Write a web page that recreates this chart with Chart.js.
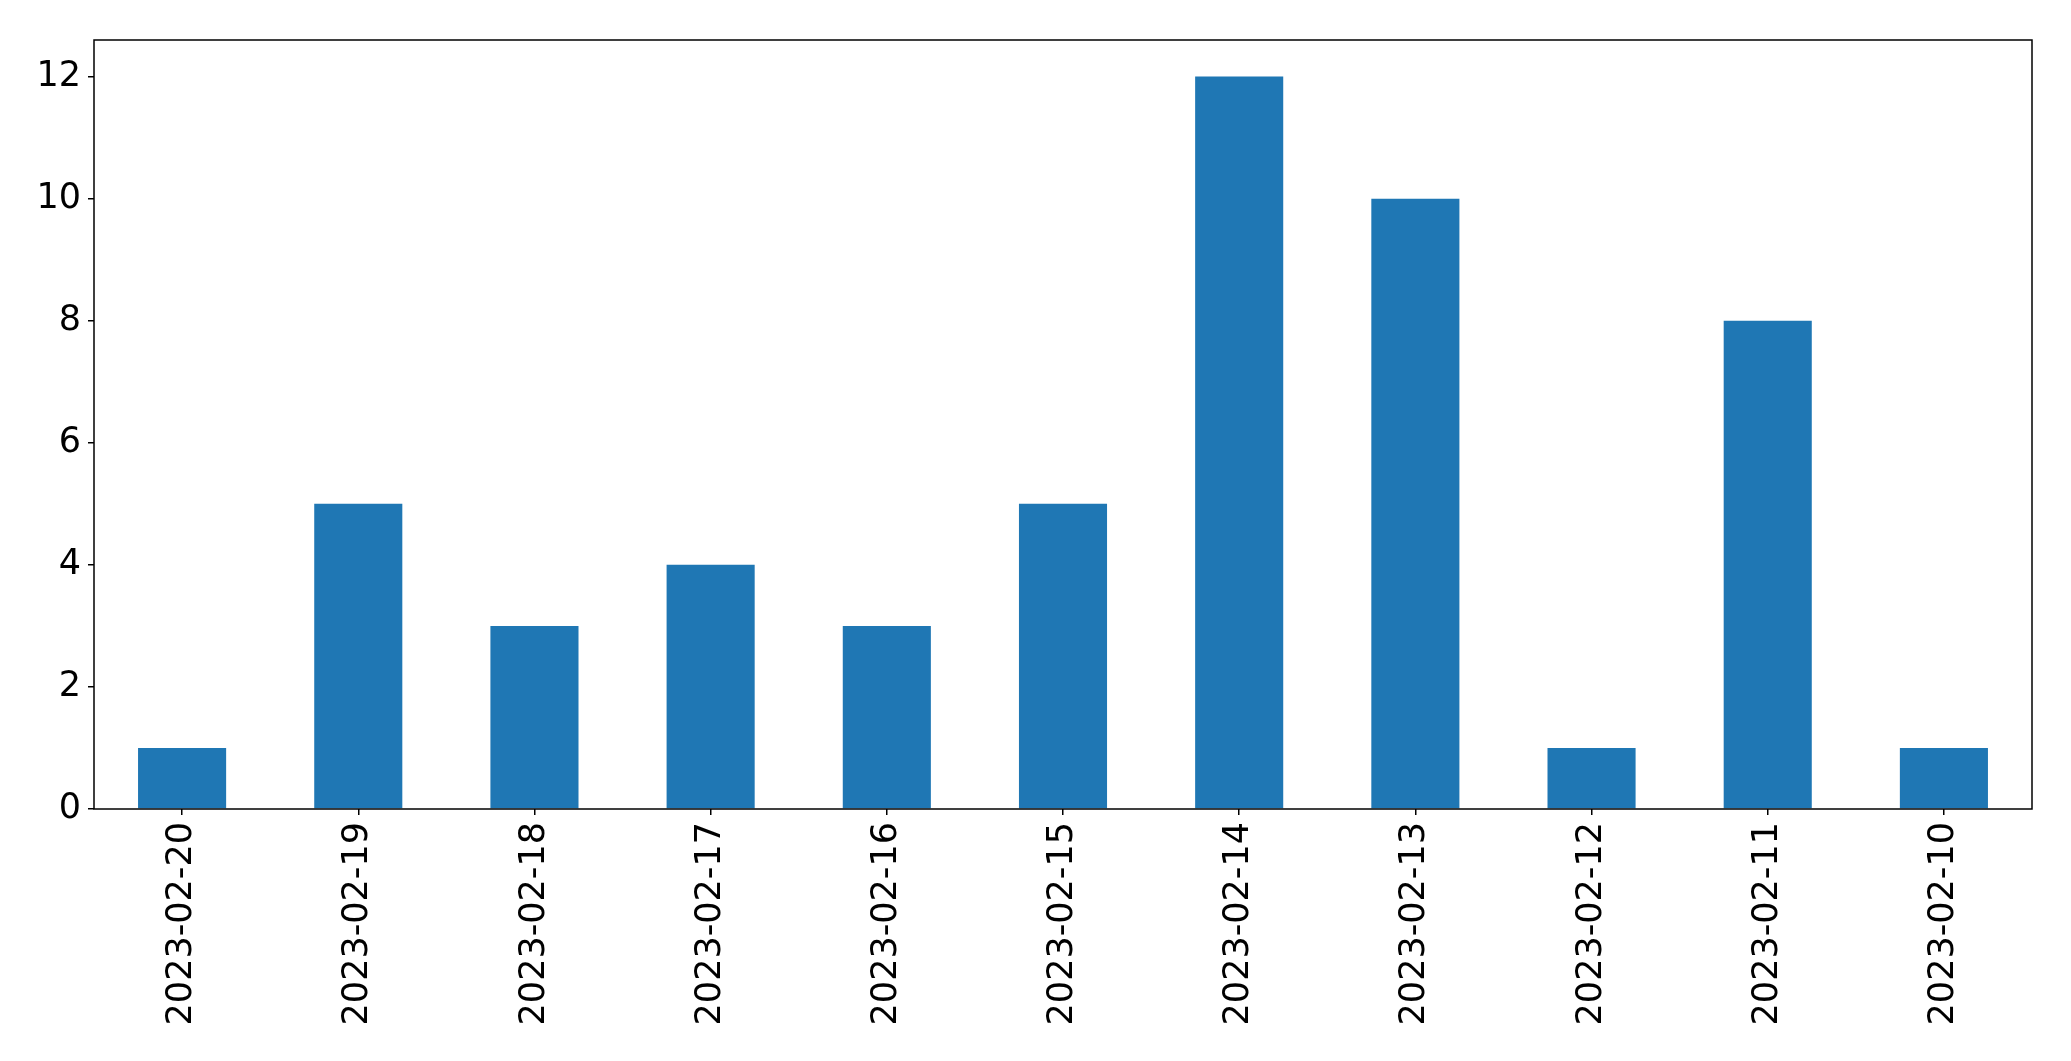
<!DOCTYPE html>
<html>
<head>
<meta charset="utf-8">
<script src="https://cdn.jsdelivr.net/npm/chart.js@4"></script>
<style>
  html, body { margin: 0; padding: 0; background: #fff; }
  #wrap { width: 2071px; height: 1061px; }
</style>
</head>
<body>
<div id="wrap"><canvas id="myChart" width="2071" height="1061"></canvas></div>
<script>
const dates = ['2023-02-20', '2023-02-19', '2023-02-18', '2023-02-17', '2023-02-16', '2023-02-15',
    '2023-02-14', '2023-02-13', '2023-02-12', '2023-02-11', '2023-02-10'];
const counts = [1, 5, 3, 4, 3, 5, 12, 10, 1, 8, 1];
const yTicks = [0, 2, 4, 6, 8, 10, 12];

// frame round the plot area, like matplotlib's spines
const frame = {
    id: 'frame',
    afterDraw(chart) {
        const a = chart.chartArea;
        const ctx = chart.ctx;
        ctx.save();
        ctx.strokeStyle = '#000';
        ctx.lineWidth = 1.5;
        ctx.strokeRect(a.left, a.top, a.right - a.left, a.bottom - a.top);
        ctx.restore();
    }
};

new Chart(document.getElementById('myChart'), {
    type: 'bar',
    data: {
        labels: dates,
        datasets: [{
            data: counts,
            backgroundColor: '#1f77b4',
            borderWidth: 0,
            barPercentage: 0.5,
            categoryPercentage: 1.0
        }]
    },
    options: {
        responsive: false,
        animation: false,
        layout: { padding: { top: 40, right: 39, left: 0, bottom: 0 } },
        plugins: { legend: { display: false }, tooltip: { enabled: false } },
        scales: {
            x: {
                offset: true,
                grid: { display: true, offset: false, drawOnChartArea: false, drawTicks: true, tickLength: 6, color: '#000', lineWidth: 1.5 },
                border: { display: false },
                ticks: {
                    minRotation: 90, maxRotation: 90, padding: 7, autoSkip: false,
                    color: '#000', font: { family: 'DejaVu Sans', size: 35 }
                },
                afterFit(scale) { scale.height = 252; }
            },
            y: {
                min: 0,
                max: 12.6,
                grid: { display: true, drawOnChartArea: false, drawTicks: true, tickLength: 6, color: '#000', lineWidth: 1.5 },
                border: { display: false },
                ticks: {
                    stepSize: 2, padding: 7,
                    color: '#000', font: { family: 'DejaVu Sans', size: 35 }
                },
                afterBuildTicks(scale) {
                    scale.ticks = yTicks.map(v => ({ value: v }));
                },
                afterFit(scale) { scale.width = 94; }
            }
        }
    },
    plugins: [frame]
});
</script>
</body>
</html>
